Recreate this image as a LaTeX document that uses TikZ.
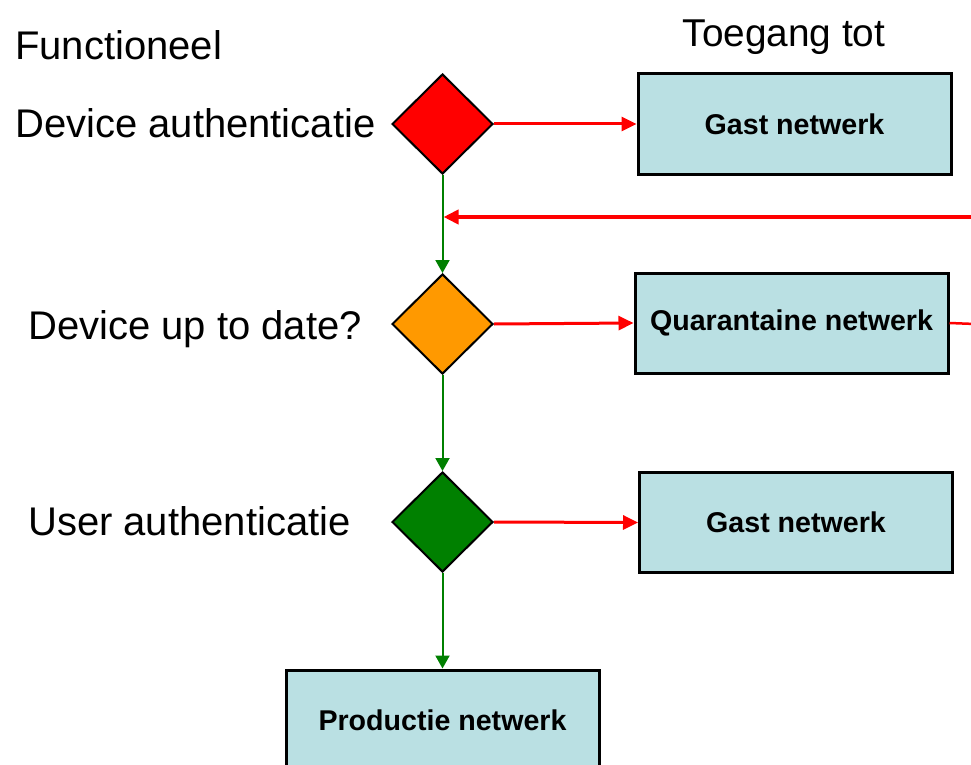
\documentclass[tikz,border=0pt]{standalone}
\usepackage{fontspec}
\setmainfont{Liberation Sans}
\usetikzlibrary{shapes.geometric,arrows.meta}
\definecolor{boxfill}{RGB}{186,224,227}
\definecolor{dgreen}{RGB}{0,128,0}
\definecolor{lgreen}{RGB}{0,128,0}
\definecolor{orng}{RGB}{255,153,0}
\tikzset{
  dec/.style={diamond, aspect=1, minimum width=101pt, minimum height=100pt, inner sep=0pt, draw=black, line width=2pt},
  netbox/.style={rectangle, draw=black, line width=3pt, fill=boxfill, minimum width=313pt, minimum height=100pt, inner sep=0pt, font=\fontsize{28.6}{30}\selectfont\bfseries},
  lbl/.style={anchor=base west, inner sep=0pt, font=\fontsize{40}{42}\selectfont},
  redarr/.style={draw=red, line width=3pt, -{Triangle[length=15pt,width=14pt]}},
  grnarr/.style={draw=lgreen, line width=2pt, -{Triangle[length=13pt,width=14pt]}},
}
\begin{document}
\begin{tikzpicture}[x=1pt,y=-1pt]
\useasboundingbox (0,0) rectangle (971,765);
\clip (0,0) rectangle (971,765);
\fill[white] (0,0) rectangle (971,765);
% labels
\node[lbl] (tf) at (15,60) {Functioneel};
\node[anchor=base, inner sep=0pt, font=\fontsize{38.8}{42}\selectfont] (tt) at (784,47) {Toegang tot};
\node[lbl] (t1) at (15,138) {Device authenticatie};
\node[lbl] (t2) at (28,339) {Device up to date?};
\node[lbl] (t3) at (28,535) {User authenticatie};
% decisions
\node[dec, fill=red] (d1) at (442.5,124) {};
\node[dec, fill=orng] (d2) at (442.5,324) {};
\node[dec, fill=dgreen] (d3) at (442.5,522) {};
% boxes
\node[netbox] (g1) at (794.5,124) {Gast netwerk};
\node[netbox] (q) at (791.5,323) {Quarantaine netwerk};
\node[netbox] (g2) at (796,522.5) {Gast netwerk};
\node[netbox] (p) at (442.5,720) {Productie netwerk};
% connectors
\coordinate (rin) at (975,217);
\coordinate (rjoin) at (443.5,217);
\coordinate (qout) at (975,324);
\draw[redarr] (d1.east) -- (g1.west);
\draw[redarr] (d2.east) -- (q.west);
\draw[redarr] (d3.east) -- (g2.west);
\draw[grnarr] (d1.south) -- (d2.north);
\draw[grnarr] (d2.south) -- (d3.north);
\draw[grnarr] (d3.south) -- (p.north);
\draw[redarr, line width=4pt] (rin) -- (rjoin);
\draw[draw=red, line width=2.5pt] (q.east) -- (qout);
\end{tikzpicture}
\end{document}
